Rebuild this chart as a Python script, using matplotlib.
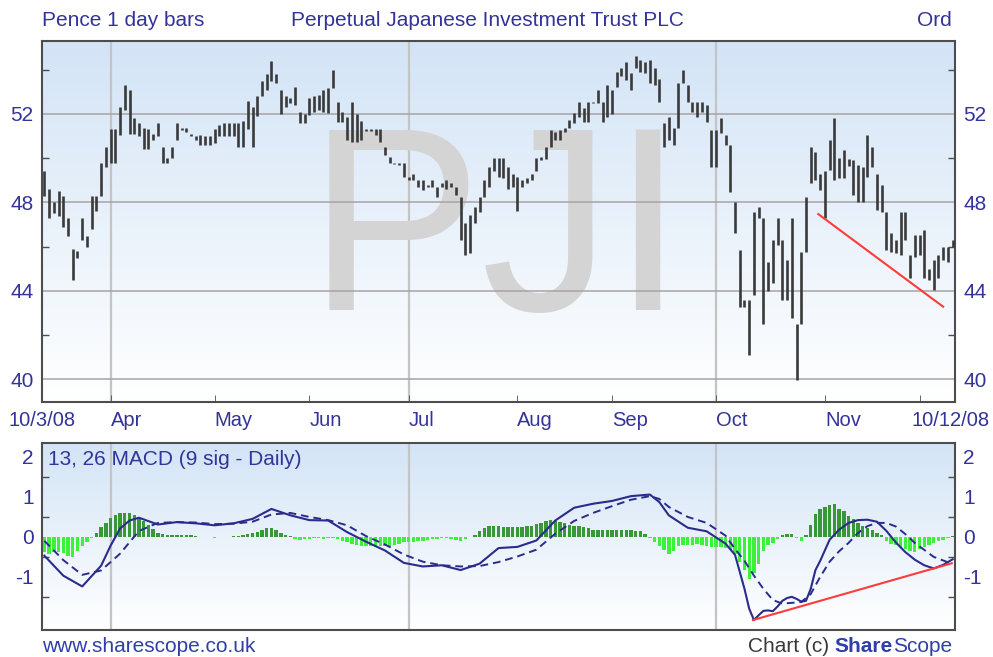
import numpy as np
import pandas as pd
import matplotlib
matplotlib.use("Agg")
import matplotlib.pyplot as plt
from matplotlib.colors import LinearSegmentedColormap
from matplotlib.transforms import blended_transform_factory

plt.rcParams['font.family'] = ['Liberation Sans', 'DejaVu Sans']

# LSE trading days 10 Mar - 10 Dec 2008
holidays = ['2008-03-21', '2008-03-24', '2008-05-05', '2008-05-26', '2008-08-25']
days = pd.bdate_range('2008-03-10', '2008-12-10').drop(pd.to_datetime(holidays))

# daily high / low in pence, one row per month
bar_high = [
    49.4, 48.6, 48.0, 48.5, 48.3, 47.3, 45.9, 45.8, 47.3, 46.5, 48.3, 48.3, 49.8, 50.5,
    51.3, 51.3, 52.3, 53.3, 53.1, 51.8, 51.6, 51.35, 51.3, 51.1, 51.6, 50.5, 50.0, 50.5, 51.6, 51.35, 51.35, 51.1, 51.0, 51.05, 51.0, 51.0,
    51.3, 51.5, 51.6, 51.6, 51.6, 51.6, 51.7, 52.6, 52.3, 52.8, 53.5, 53.8, 54.4, 53.8, 53.1, 52.8, 52.7, 53.2, 52.1, 52.0,
    52.7, 52.8, 52.86, 53.1, 53.16, 54.0, 52.56, 52.1, 51.85, 52.56, 52.0, 51.7, 51.3, 51.3, 51.3, 51.3, 50.5, 50.05, 49.8, 49.8, 49.77,
    49.16, 49.3, 49.0, 49.0, 48.8, 49.0, 48.7, 48.86, 49.0, 48.86, 48.7, 48.26, 47.05, 47.43, 47.8, 48.26, 49.0, 49.6, 50.0, 50.0, 50.0, 49.6, 49.3,
    49.16, 49.0, 49.1, 49.3, 50.0, 50.05, 50.5, 51.28, 51.2, 51.28, 51.35, 51.73, 52.03, 52.56, 52.26, 52.56, 52.56, 53.09, 52.56, 53.3,
    53.09, 53.9, 54.07, 54.37, 53.84, 54.6, 54.44, 54.37, 54.44, 54.1, 53.6, 51.58, 51.88, 51.35, 53.39, 53.99, 53.3, 52.56, 52.56, 52.56, 52.41, 51.28,
    51.28, 51.8, 51.05, 50.6, 48.03, 45.85, 43.6, 43.58, 47.58, 47.8, 47.28, 45.3, 46.3, 47.28, 46.3, 45.4, 47.28, 42.5, 45.77, 48.26, 50.52, 50.3, 49.3,
    49.4, 50.82, 51.8, 50.0, 50.37, 49.95, 49.9, 49.7, 49.6, 51.05, 50.5, 49.3, 48.8, 47.58, 46.6, 46.3, 47.58, 47.58, 45.6, 46.52,
    46.52, 46.75, 45.0, 45.4, 45.6, 46.0, 46.0, 46.3,
]
bar_low = [
    48.3, 47.3, 47.5, 47.4, 46.9, 46.5, 44.5, 45.5, 46.3, 46.0, 46.8, 47.6, 48.3, 49.6,
    49.8, 49.8, 51.05, 52.2, 51.1, 51.1, 51.0, 50.4, 50.4, 50.8, 51.0, 49.8, 49.8, 50.0, 50.8, 51.28, 51.2, 51.0, 50.8, 50.6, 50.6, 50.6,
    50.7, 51.0, 51.0, 51.0, 51.0, 50.5, 50.5, 51.3, 50.5, 51.9, 52.8, 53.1, 53.5, 53.4, 52.0, 52.3, 52.5, 52.4, 51.6, 51.6,
    51.95, 52.1, 52.18, 52.1, 52.03, 53.16, 51.65, 51.65, 50.8, 50.75, 50.75, 50.8, 51.25, 51.25, 51.05, 50.75, 50.15, 49.8, 49.75, 49.7, 49.16,
    49.0, 49.0, 48.7, 48.56, 48.7, 48.7, 48.26, 48.7, 48.6, 48.7, 48.33, 46.3, 45.62, 45.7, 47.05, 47.58, 48.26, 48.7, 49.4, 49.16, 49.1, 48.6, 48.7,
    47.6, 48.7, 48.86, 49.0, 49.4, 49.9, 49.95, 50.52, 50.82, 50.82, 51.2, 51.35, 51.58, 51.88, 51.65, 51.65, 52.48, 52.48, 51.65, 51.88,
    52.0, 53.24, 53.7, 53.54, 53.09, 54.1, 53.9, 53.84, 53.39, 53.3, 52.56, 50.52, 50.8, 50.6, 51.35, 53.39, 52.56, 52.1, 51.88, 52.1, 51.65, 49.62,
    49.62, 51.13, 50.6, 48.49, 46.6, 43.28, 43.28, 41.1, 43.8, 47.28, 42.5, 44.0, 44.34, 46.07, 43.6, 43.6, 42.75, 39.96, 42.5, 45.77, 48.86, 49.0, 48.56,
    47.28, 49.47, 49.0, 49.1, 49.1, 49.65, 48.33, 48.03, 48.03, 49.16, 49.6, 47.66, 47.58, 45.85, 45.77, 45.7, 45.62, 46.3, 44.56, 45.54,
    45.62, 44.56, 44.5, 44.04, 44.56, 45.4, 45.3, 46.0,
]

# MACD histogram, one value per day
macd_hist = [
    -0.37, -0.42, -0.38, -0.37, -0.40, -0.48, -0.50, -0.35, -0.22, -0.12, -0.04, 0.10, 0.24, 0.36,
    0.48, 0.55, 0.59, 0.60, 0.59, 0.54, 0.47, 0.39, 0.30, 0.20, 0.10, 0.07, 0.06, 0.06, 0.05, 0.06, 0.05, 0.04, 0.02, 0.01, 0.0, -0.01,
    -0.02, 0.0, 0.01, 0.01, 0.02, 0.03, 0.05, 0.08, 0.10, 0.12, 0.18, 0.22, 0.23, 0.18, 0.10, 0.05, 0.02, -0.06, -0.07, -0.05,
    -0.06, -0.04, -0.03, -0.05, -0.03, -0.02, -0.06, -0.10, -0.14, -0.18, -0.20, -0.22, -0.24, -0.23, -0.25, -0.24, -0.22, -0.24, -0.20, -0.17, -0.14,
    -0.12, -0.13, -0.11, -0.10, -0.08, -0.06, -0.05, -0.04, -0.03, -0.06, -0.08, -0.10, -0.06, 0.0, 0.05, 0.15, 0.22, 0.27, 0.28, 0.27, 0.26, 0.25, 0.25,
    0.26, 0.26, 0.27, 0.28, 0.32, 0.36, 0.40, 0.42, 0.40, 0.38, 0.36, 0.30, 0.28, 0.27, 0.26, 0.22, 0.18, 0.17, 0.17, 0.17,
    0.17, 0.18, 0.17, 0.17, 0.18, 0.16, 0.14, 0.08, -0.04, -0.12, -0.22, -0.33, -0.42, -0.35, -0.24, -0.21, -0.20, -0.20, -0.19, -0.21, -0.24, -0.25,
    -0.25, -0.26, -0.28, -0.32, -0.42, -0.62, -0.82, -1.06, -0.90, -0.67, -0.35, -0.20, -0.15, -0.05, 0.05, 0.08, 0.07, -0.04, -0.10, 0.04, 0.29, 0.58, 0.70,
    0.75, 0.79, 0.82, 0.71, 0.65, 0.52, 0.44, 0.36, 0.28, 0.22, 0.17, 0.10, 0.04, -0.10, -0.17, -0.21, -0.25, -0.31, -0.35, -0.37,
    -0.31, -0.25, -0.21, -0.16, -0.11, -0.07, -0.02, 0.02,
]

# MACD line, read at these day numbers
macd_day = [0, 4, 8, 12, 14, 16, 18, 20, 24, 28, 32, 36, 40, 44, 48, 52, 56, 60, 64, 68, 72, 76, 80, 84, 88, 92, 96,
            100, 104, 108, 112, 116, 120, 124, 128, 130, 132, 136, 140, 144, 146, 148, 149, 150, 151, 152, 153, 154,
            155, 156, 157, 158, 159, 160, 161, 162, 163, 164, 166, 168, 170, 172, 174, 176, 178, 180, 182, 184, 186,
            188, 190, 192]
macd_line = [-0.47, -0.97, -1.24, -0.72, -0.22, 0.21, 0.41, 0.48, 0.31, 0.37, 0.34, 0.29, 0.34, 0.45, 0.70, 0.54, 0.42,
             0.41, 0.12, -0.12, -0.34, -0.65, -0.74, -0.71, -0.83, -0.67, -0.28,
             -0.25, -0.09, 0.41, 0.73, 0.83, 0.90, 1.02, 1.06, 0.87, 0.54, 0.23, 0.14, -0.17, -0.45, -1.30, -1.80, -2.08,
             -1.96, -1.85, -1.84, -1.86, -1.74, -1.60, -1.53, -1.50, -1.55, -1.62, -1.60, -1.30, -0.83, -0.60, -0.07,
             0.18, 0.35, 0.42, 0.43, 0.38, 0.15, -0.14, -0.38, -0.57, -0.71, -0.79, -0.70, -0.56]

# 9 day signal line
sig_day = [0, 4, 8, 12, 16, 20, 24, 28, 32, 36, 40, 44, 48, 52, 56, 60, 64, 68, 72, 76, 80, 84, 88, 92, 96,
           100, 104, 108, 112, 116, 120, 124, 128, 130, 132, 136, 140, 144, 146, 148, 150, 152, 154, 156, 158,
           160, 162, 164, 166, 168, 170, 172, 174, 176, 178, 180, 182, 184, 188, 192]
sig_line = [-0.10, -0.58, -0.95, -0.84, -0.42, 0.15, 0.35, 0.37, 0.36, 0.32, 0.33, 0.38, 0.56, 0.60, 0.50, 0.42,
            0.29, 0.02, -0.19, -0.44, -0.62, -0.71, -0.74, -0.73, -0.63,
            -0.49, -0.32, 0.08, 0.40, 0.60, 0.77, 0.93, 1.02, 0.95, 0.75, 0.50, 0.35, 0.03, -0.30, -0.60, -0.97,
            -1.30, -1.58, -1.67, -1.65, -1.63, -1.43, -1.00, -0.62, -0.36, -0.15, 0.10, 0.27, 0.35, 0.35, 0.26,
            0.07, -0.15, -0.50, -0.68]

# hand drawn trend lines
price_trend_day = [163.6, 190.0]
price_trend_val = [47.47, 43.28]
macd_trend_day = [149.8, 191.8]
macd_trend_val = [-2.08, -0.66]

n = len(days)
x = np.arange(n)
month_start = [i for i in range(1, n) if days[i].month != days[i - 1].month]
quarter_start = [i for i in month_start if days[i].month in (1, 4, 7, 10)]

label_col = '#333399'
frame_col = '#4d4d4d'
bg = LinearSegmentedColormap.from_list('bg', ['#ffffff', '#d3e4f6'])
grad = np.linspace(0, 1, 256).reshape(-1, 1)

fig = plt.figure(figsize=(9.93, 6.57), dpi=100)
ax = fig.add_axes([42 / 993, 1 - 402 / 657, 913 / 993, 361 / 657])
ax2 = fig.add_axes([42 / 993, 1 - 630 / 657, 913 / 993, 187 / 657])

for a in (ax, ax2):
    a.imshow(grad, extent=[0, 1, 0, 1], transform=a.transAxes, aspect='auto',
             cmap=bg, origin='lower', zorder=0)
    for q in quarter_start:
        a.axvline(q, color='#c4c4c4', lw=1.6, zorder=1)
    for s in a.spines.values():
        s.set_color(frame_col)
        s.set_linewidth(1.5)
    a.set_xlim(-0.5, n - 0.5)
    a.set_xticks([])
    a.tick_params(axis='y', which='major', left=True, right=True, labelleft=True, labelright=True,
                  length=0, pad=6, labelsize=15, labelcolor=label_col)
    a.tick_params(axis='y', which='minor', left=True, right=True, direction='in',
                  length=5, width=1, color=frame_col)

# price panel
ax.text(0.498, 0.255, 'PJI', transform=ax.transAxes, ha='center', va='baseline',
        fontsize=188, color='#d4d4d4', zorder=1)
for g in (40, 44, 48, 52):
    ax.axhline(g, color='#aaa2a2', lw=1.1, zorder=1)
ax.vlines(x, bar_low, bar_high, color='#3a3a3a', lw=1.9, zorder=3)
ax.plot(price_trend_day, price_trend_val, color='#ff3b3b', lw=1.5, zorder=4)
ax.set_ylim(38.97, 55.3)
ax.set_yticks([40, 44, 48, 52])
ax.set_yticks([42, 46, 50, 54], minor=True)
ax.set_xticks(month_start, minor=True)
ax.tick_params(axis='x', which='minor', bottom=True, direction='in', length=5, color=frame_col)

# MACD panel
hist = np.array(macd_hist)
ax2.bar(x, hist, width=0.72, color=np.where(hist >= 0, '#389838', '#3cf03c'), zorder=2)
ax2.plot(macd_day, macd_line, color='#2b2b8c', lw=1.5, zorder=3)
ax2.plot(sig_day, sig_line, color='#2b2b8c', lw=1.4, ls=(0, (4, 2.5)), zorder=3)
ax2.plot(macd_trend_day, macd_trend_val, color='#ff3b3b', lw=1.5, zorder=4)
ax2.set_ylim(-2.33, 2.35)
ax2.set_yticks([-1, 0, 1, 2])
ax2.set_yticklabels(['-1', '0', '1', '2'])
ax2.set_yticks([-1.5, -0.5, 0.5, 1.5], minor=True)
ax2.text(6 / 913, 0.91, '13, 26 MACD (9 sig - Daily)', transform=ax2.transAxes,
         ha='left', va='center', fontsize=15, color=label_col, zorder=5)

# date labels between the panels
tr = blended_transform_factory(ax.transData, fig.transFigure)
lab_y = 1 - 421 / 657
fig.text(9 / 993, lab_y, days[0].strftime('%-d/%-m/%y'), ha='left', va='center',
         fontsize=14.5, color=label_col)
fig.text(990 / 993, lab_y, days[-1].strftime('%-d/%-m/%y'), ha='right', va='center',
         fontsize=14.5, color=label_col)
for i in month_start[:-1]:
    ax.text(i, lab_y, days[i].strftime('%b'), transform=tr, ha='left', va='center',
            fontsize=14.5, color=label_col)

# header and footer
top_y = 1 - 20 / 657
fig.text(42 / 993, top_y, 'Pence 1 day bars', ha='left', va='center', fontsize=15, color=label_col)
fig.text(291 / 993, top_y, 'Perpetual Japanese Investment Trust PLC', ha='left', va='center',
         fontsize=15, color=label_col)
fig.text(952 / 993, top_y, 'Ord', ha='right', va='center', fontsize=15, color=label_col)

foot_y = 1 - 647 / 657
fig.text(42 / 993, foot_y, 'www.sharescope.co.uk', ha='left', va='center', fontsize=15, color='#2f3fa8')
t_scope = fig.text(952 / 993, foot_y, 'Scope', ha='right', va='center', fontsize=15, color='#2f3fa8')
t_share = ax2.annotate('Share', xy=(0, 0.5), xycoords=t_scope, ha='right', va='center', fontsize=15,
                       fontweight='bold', color='#2f3fa8', annotation_clip=False)
ax2.annotate('Chart (c)', xy=(0, 0.5), xycoords=t_share, xytext=(-5, 0), textcoords='offset pixels',
             ha='right', va='center', fontsize=15, color='#3a3a3a', annotation_clip=False)

fig.savefig('out.png', dpi=100, facecolor='white')
